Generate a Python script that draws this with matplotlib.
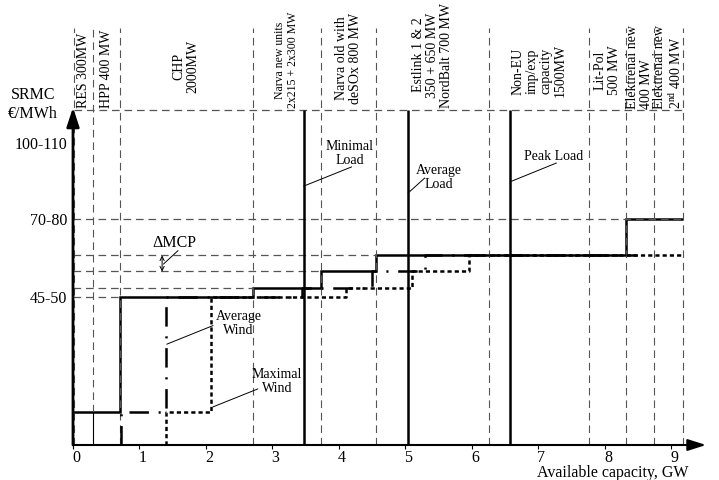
import numpy as np
import matplotlib
matplotlib.use("Agg")
import matplotlib.pyplot as plt
import matplotlib.transforms as mtransforms

plt.rcParams['font.family'] = ['Liberation Serif', 'DejaVu Serif']
plt.rcParams['mathtext.fontset'] = 'custom'
plt.rcParams['mathtext.rm'] = 'Liberation Serif'
plt.rcParams['lines.scale_dashes'] = False

# capacity axis (GW) and price levels (schematic units)
gw_ticks = np.arange(0, 10)
price_levels = [49.4, 75.3, 100.7]
price_labels = ["45-50", "70-80", "100-110"]
top_lvl = 111.7

# columns of the merit order (GW edges)
col_edges = [0.02, 0.3, 0.7, 2.7, 3.73, 4.56, 6.26, 7.76, 8.31, 8.74, 9.17]
col_labels = ["RES 300MW", "HPP 400 MW", "CHP\n2000MW",
              "Narva new units\n2x215 + 2x300 MW",
              "Narva old with\ndeSOx 800 MW",
              "Estlink 1 & 2\n350 + 650 MW\nNordBalt 700 MW",
              "Non-EU\nimp/exp\ncapacity\n1500MW",
              "Lit-Pol\n500 MW",
              "Elektrenai new\n400 MW",
              "Elektrenai new\n2$^{\\rm nd}$ 400 MW"]

# supply curves
base_x = [0, 0.7, 2.7, 3.73, 4.56, 8.31, 9.17]
base_p = [11, 49.4, 52.3, 58.0, 63.2, 75.3]
avg_wind_x = [0.72, 0.72, 1.4, 3.44, 4.5, 5.29, 8.48]
avg_wind_p = [0, 11, 49.4, 52.3, 58.0, 63.2, 63.2]
max_wind_x = [1.4, 1.4, 2.07, 4.1, 5.1, 5.95, 9.17]
max_wind_p = [0, 11, 49.4, 52.3, 58.0, 63.2, 63.2]

# demand levels (GW)
load_x = [3.47, 5.04, 6.57]
load_names = ["Minimal\nLoad", "Average\nLoad", "Peak Load"]

# guide lines from the price axis to the curve
guide_p = [49.4, 52.3, 58.0, 63.2, 75.3, top_lvl]
guide_end = [0.7, 2.7, 3.73, 4.56, 9.17, 9.17]

fig = plt.figure(figsize=(7.19, 4.8), dpi=100)
ax = fig.add_axes([73 / 719, 35 / 480, 645 / 719, 417 / 480])
ax.set_xlim(0, 9.7)
ax.set_ylim(0, 139)
for s in ax.spines.values():
    s.set_visible(False)

dash = (0, (5.5, 3.5))
gcol = '#555555'

# vertical column separators
for e in col_edges:
    lo = 11 if e == 0.3 else 0
    ax.vlines(e, lo, 139, colors=gcol, lw=0.8, linestyles=[dash])
ax.vlines(0.3, 0, 11, colors='k', lw=0.8)

# horizontal guides
for p, e in zip(guide_p, guide_end):
    ax.hlines(p, 0.02 if p == top_lvl else 0, e, colors=gcol, lw=0.9, linestyles=[dash])

# wind-shifted curves
ax.step(max_wind_x, max_wind_p, where='post', color='k', lw=1.8,
        linestyle=(0, (3, 2.2)))
ax.step(avg_wind_x, avg_wind_p, where='post', color='k', lw=1.8,
        linestyle=(0, (14, 7, 1.5, 7)))
ax.stairs(base_p, base_x, baseline=None, color='k', lw=1.8)

# load lines
ax.vlines(load_x, 0, top_lvl, colors='k', lw=1.8)

# axes with arrows
ax.annotate('', xy=(9.52, 0), xytext=(0, 0), annotation_clip=False,
            arrowprops=dict(arrowstyle='-|>,head_length=1.1,head_width=0.35',
                            color='k', lw=1.5, shrinkA=0, shrinkB=0))
ax.annotate('', xy=(0, 112.5), xytext=(0, 0), annotation_clip=False,
            arrowprops=dict(arrowstyle='-|>,head_length=1.15,head_width=0.38',
                            color='k', lw=2.0, shrinkA=0, shrinkB=0))

ax.set_xticks(gw_ticks)
ax.tick_params(axis='x', direction='out', length=3, width=0.8, pad=0.5, labelsize=11.5)
offset = mtransforms.ScaledTranslation(0.03, 0, fig.dpi_scale_trans)
for lab in ax.get_xticklabels():
    lab.set_transform(lab.get_transform() + offset)
ax.set_yticks(price_levels, price_labels)
ax.tick_params(axis='y', length=0, pad=4, labelsize=11.5)

ax.text(-0.6, 113.5, "SRMC\n€/MWh", ha='center', va='center', fontsize=11.5,
        linespacing=1.25)
ax.text(9.25, -9.3, "Available capacity, GW", ha='right', va='center', fontsize=11.5)

# column labels
label_y = [124.8, 125.3, 126.3, 128.3, 129, 130, 124.7, 125, None, None]
for i, txt in enumerate(col_labels):
    xc = (col_edges[i] + col_edges[i + 1]) / 2
    fs = 8.5 if i == 3 else 10
    if label_y[i] is None:
        ax.text(xc, 112, txt, rotation=90, ha='center', va='bottom',
                multialignment='left', fontsize=fs, linespacing=1.1)
    else:
        ax.text(xc, label_y[i], txt, rotation=90, ha='center', va='center',
                multialignment='center', fontsize=fs, linespacing=1.1)

# load annotations
load_txt = [(4.16, 97.3), (5.50, 89.2), (7.23, 96.3)]
load_from = [(4.19, 92.7), (5.29, 89.0), (7.27, 94.0)]
load_to = [86.3, 84.0, 87.7]
for name, lx, tp, fp, ty in zip(load_names, load_x, load_txt, load_from, load_to):
    ax.text(tp[0], tp[1], name, ha='center', va='center', fontsize=10, linespacing=1.1)
    ax.annotate('', xy=(lx, ty), xytext=fp,
                arrowprops=dict(arrowstyle='-', lw=0.7, color='k', shrinkA=0, shrinkB=0))

# wind annotations
ax.text(2.49, 40.5, "Average\nWind", ha='center', va='center', fontsize=10, linespacing=1.1)
ax.annotate('', xy=(1.41, 33.6), xytext=(2.105, 39.8),
            arrowprops=dict(arrowstyle='-', lw=0.7, color='k', shrinkA=0, shrinkB=0))
ax.text(3.065, 21.3, "Maximal\nWind", ha='center', va='center', fontsize=10, linespacing=1.1)
ax.annotate('', xy=(2.105, 12.7), xytext=(2.78, 18.7),
            arrowprops=dict(arrowstyle='-', lw=0.7, color='k', shrinkA=0, shrinkB=0))

# delta MCP
ax.text(1.53, 67.3, "ΔMCP", ha='center', va='center', fontsize=11.5)
ax.annotate('', xy=(1.34, 57.8), xytext=(1.34, 63.2),
            arrowprops=dict(arrowstyle='<->,head_length=0.3,head_width=0.15',
                            lw=0.7, color='k', shrinkA=0, shrinkB=0))
ax.annotate('', xy=(1.36, 60.3), xytext=(1.58, 64.8),
            arrowprops=dict(arrowstyle='-', lw=0.7, color='k', shrinkA=0, shrinkB=0))

fig.savefig("out.png", dpi=100)
